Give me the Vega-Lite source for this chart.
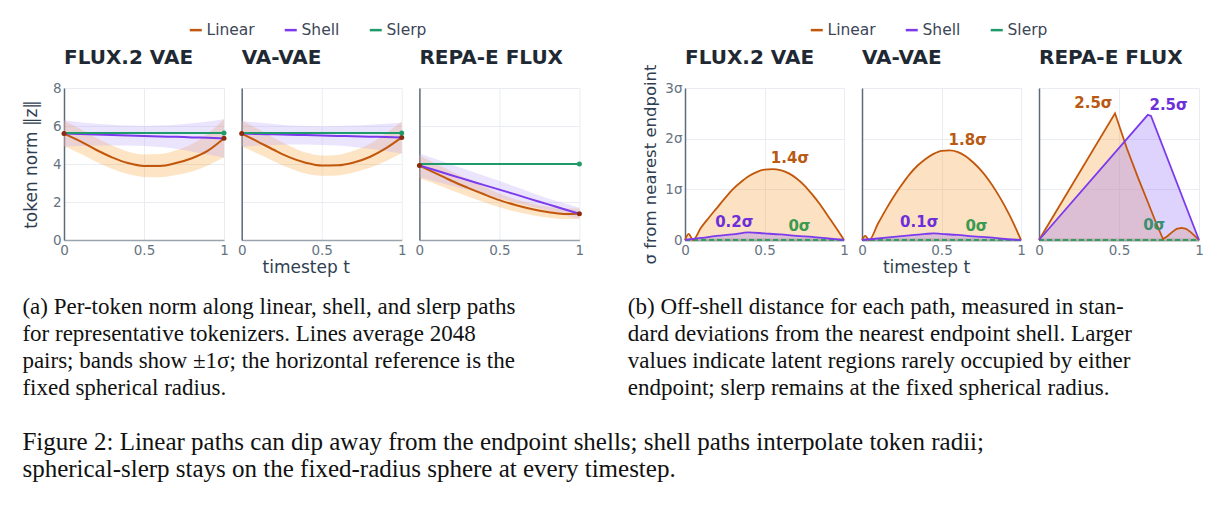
{
  "$schema": "https://vega.github.io/schema/vega-lite/v6.json",
  "background": "white",
  "padding": {"left": 22, "top": 22, "right": 10, "bottom": 10},
  "datasets": {
    "norm": [
      {"model": "FLUX.2 VAE", "series": "Linear", "t": 0, "mean": 5.6, "lo": 4.93, "hi": 6.27},
      {"model": "FLUX.2 VAE", "series": "Linear", "t": 0.1, "mean": 5.2, "lo": 4.55, "hi": 5.85},
      {"model": "FLUX.2 VAE", "series": "Linear", "t": 0.2, "mean": 4.75, "lo": 4.12, "hi": 5.38},
      {"model": "FLUX.2 VAE", "series": "Linear", "t": 0.3, "mean": 4.35, "lo": 3.75, "hi": 4.97},
      {"model": "FLUX.2 VAE", "series": "Linear", "t": 0.4, "mean": 4.05, "lo": 3.47, "hi": 4.65},
      {"model": "FLUX.2 VAE", "series": "Linear", "t": 0.5, "mean": 3.9, "lo": 3.32, "hi": 4.5},
      {"model": "FLUX.2 VAE", "series": "Linear", "t": 0.6, "mean": 3.9, "lo": 3.3, "hi": 4.52},
      {"model": "FLUX.2 VAE", "series": "Linear", "t": 0.7, "mean": 4.05, "lo": 3.42, "hi": 4.72},
      {"model": "FLUX.2 VAE", "series": "Linear", "t": 0.8, "mean": 4.3, "lo": 3.6, "hi": 5.05},
      {"model": "FLUX.2 VAE", "series": "Linear", "t": 0.9, "mean": 4.7, "lo": 3.92, "hi": 5.6},
      {"model": "FLUX.2 VAE", "series": "Linear", "t": 1, "mean": 5.35, "lo": 4.35, "hi": 6.35},
      {"model": "FLUX.2 VAE", "series": "Shell", "t": 0, "mean": 5.6, "lo": 4.92, "hi": 6.3},
      {"model": "FLUX.2 VAE", "series": "Shell", "t": 0.1, "mean": 5.58, "lo": 4.95, "hi": 6.2},
      {"model": "FLUX.2 VAE", "series": "Shell", "t": 0.2, "mean": 5.55, "lo": 4.97, "hi": 6.12},
      {"model": "FLUX.2 VAE", "series": "Shell", "t": 0.3, "mean": 5.53, "lo": 4.98, "hi": 6.06},
      {"model": "FLUX.2 VAE", "series": "Shell", "t": 0.4, "mean": 5.5, "lo": 4.98, "hi": 6.02},
      {"model": "FLUX.2 VAE", "series": "Shell", "t": 0.5, "mean": 5.48, "lo": 4.95, "hi": 6.0},
      {"model": "FLUX.2 VAE", "series": "Shell", "t": 0.6, "mean": 5.45, "lo": 4.9, "hi": 6.02},
      {"model": "FLUX.2 VAE", "series": "Shell", "t": 0.7, "mean": 5.43, "lo": 4.8, "hi": 6.07},
      {"model": "FLUX.2 VAE", "series": "Shell", "t": 0.8, "mean": 5.4, "lo": 4.66, "hi": 6.14},
      {"model": "FLUX.2 VAE", "series": "Shell", "t": 0.9, "mean": 5.38, "lo": 4.5, "hi": 6.24},
      {"model": "FLUX.2 VAE", "series": "Shell", "t": 1, "mean": 5.35, "lo": 4.33, "hi": 6.36},
      {"model": "FLUX.2 VAE", "series": "Slerp", "t": 0, "mean": 5.63, "lo": 5.63, "hi": 5.63},
      {"model": "FLUX.2 VAE", "series": "Slerp", "t": 1, "mean": 5.63, "lo": 5.63, "hi": 5.63},
      {"model": "VA-VAE", "series": "Linear", "t": 0, "mean": 5.6, "lo": 4.92, "hi": 6.28},
      {"model": "VA-VAE", "series": "Linear", "t": 0.1, "mean": 5.18, "lo": 4.55, "hi": 5.85},
      {"model": "VA-VAE", "series": "Linear", "t": 0.2, "mean": 4.75, "lo": 4.15, "hi": 5.38},
      {"model": "VA-VAE", "series": "Linear", "t": 0.3, "mean": 4.35, "lo": 3.78, "hi": 4.95},
      {"model": "VA-VAE", "series": "Linear", "t": 0.4, "mean": 4.07, "lo": 3.5, "hi": 4.6},
      {"model": "VA-VAE", "series": "Linear", "t": 0.5, "mean": 3.92, "lo": 3.38, "hi": 4.45},
      {"model": "VA-VAE", "series": "Linear", "t": 0.6, "mean": 3.93, "lo": 3.4, "hi": 4.48},
      {"model": "VA-VAE", "series": "Linear", "t": 0.7, "mean": 4.08, "lo": 3.55, "hi": 4.7},
      {"model": "VA-VAE", "series": "Linear", "t": 0.8, "mean": 4.37, "lo": 3.8, "hi": 5.05},
      {"model": "VA-VAE", "series": "Linear", "t": 0.9, "mean": 4.82, "lo": 4.15, "hi": 5.6},
      {"model": "VA-VAE", "series": "Linear", "t": 1, "mean": 5.4, "lo": 4.57, "hi": 6.24},
      {"model": "VA-VAE", "series": "Shell", "t": 0, "mean": 5.6, "lo": 4.92, "hi": 6.28},
      {"model": "VA-VAE", "series": "Shell", "t": 0.1, "mean": 5.58, "lo": 4.97, "hi": 6.18},
      {"model": "VA-VAE", "series": "Shell", "t": 0.2, "mean": 5.56, "lo": 5.0, "hi": 6.1},
      {"model": "VA-VAE", "series": "Shell", "t": 0.3, "mean": 5.54, "lo": 5.02, "hi": 6.03},
      {"model": "VA-VAE", "series": "Shell", "t": 0.4, "mean": 5.52, "lo": 5.02, "hi": 6.0},
      {"model": "VA-VAE", "series": "Shell", "t": 0.5, "mean": 5.5, "lo": 5.0, "hi": 5.98},
      {"model": "VA-VAE", "series": "Shell", "t": 0.6, "mean": 5.48, "lo": 4.97, "hi": 6.0},
      {"model": "VA-VAE", "series": "Shell", "t": 0.7, "mean": 5.46, "lo": 4.9, "hi": 6.03},
      {"model": "VA-VAE", "series": "Shell", "t": 0.8, "mean": 5.44, "lo": 4.8, "hi": 6.07},
      {"model": "VA-VAE", "series": "Shell", "t": 0.9, "mean": 5.42, "lo": 4.68, "hi": 6.12},
      {"model": "VA-VAE", "series": "Shell", "t": 1, "mean": 5.4, "lo": 4.55, "hi": 6.17},
      {"model": "VA-VAE", "series": "Slerp", "t": 0, "mean": 5.63, "lo": 5.63, "hi": 5.63},
      {"model": "VA-VAE", "series": "Slerp", "t": 1, "mean": 5.63, "lo": 5.63, "hi": 5.63},
      {"model": "REPA-E FLUX", "series": "Linear", "t": 0, "mean": 3.92, "lo": 3.25, "hi": 4.45},
      {"model": "REPA-E FLUX", "series": "Linear", "t": 0.1, "mean": 3.52, "lo": 2.95, "hi": 4.02},
      {"model": "REPA-E FLUX", "series": "Linear", "t": 0.2, "mean": 3.12, "lo": 2.62, "hi": 3.6},
      {"model": "REPA-E FLUX", "series": "Linear", "t": 0.3, "mean": 2.76, "lo": 2.3, "hi": 3.2},
      {"model": "REPA-E FLUX", "series": "Linear", "t": 0.4, "mean": 2.42, "lo": 2.0, "hi": 2.83},
      {"model": "REPA-E FLUX", "series": "Linear", "t": 0.5, "mean": 2.1, "lo": 1.72, "hi": 2.45},
      {"model": "REPA-E FLUX", "series": "Linear", "t": 0.6, "mean": 1.84, "lo": 1.5, "hi": 2.15},
      {"model": "REPA-E FLUX", "series": "Linear", "t": 0.7, "mean": 1.63, "lo": 1.32, "hi": 1.92},
      {"model": "REPA-E FLUX", "series": "Linear", "t": 0.8, "mean": 1.47, "lo": 1.18, "hi": 1.76},
      {"model": "REPA-E FLUX", "series": "Linear", "t": 0.9, "mean": 1.37, "lo": 1.1, "hi": 1.67},
      {"model": "REPA-E FLUX", "series": "Linear", "t": 1, "mean": 1.38, "lo": 1.1, "hi": 1.66},
      {"model": "REPA-E FLUX", "series": "Shell", "t": 0, "mean": 3.92, "lo": 3.3, "hi": 4.55},
      {"model": "REPA-E FLUX", "series": "Shell", "t": 0.1, "mean": 3.67, "lo": 3.08, "hi": 4.26},
      {"model": "REPA-E FLUX", "series": "Shell", "t": 0.2, "mean": 3.41, "lo": 2.86, "hi": 3.97},
      {"model": "REPA-E FLUX", "series": "Shell", "t": 0.3, "mean": 3.16, "lo": 2.64, "hi": 3.68},
      {"model": "REPA-E FLUX", "series": "Shell", "t": 0.4, "mean": 2.9, "lo": 2.42, "hi": 3.39},
      {"model": "REPA-E FLUX", "series": "Shell", "t": 0.5, "mean": 2.65, "lo": 2.2, "hi": 3.1},
      {"model": "REPA-E FLUX", "series": "Shell", "t": 0.6, "mean": 2.4, "lo": 1.98, "hi": 2.8},
      {"model": "REPA-E FLUX", "series": "Shell", "t": 0.7, "mean": 2.14, "lo": 1.76, "hi": 2.5},
      {"model": "REPA-E FLUX", "series": "Shell", "t": 0.8, "mean": 1.89, "lo": 1.54, "hi": 2.2},
      {"model": "REPA-E FLUX", "series": "Shell", "t": 0.9, "mean": 1.63, "lo": 1.32, "hi": 1.95},
      {"model": "REPA-E FLUX", "series": "Shell", "t": 1, "mean": 1.38, "lo": 1.1, "hi": 1.7},
      {"model": "REPA-E FLUX", "series": "Slerp", "t": 0, "mean": 4.0, "lo": 4.0, "hi": 4.0},
      {"model": "REPA-E FLUX", "series": "Slerp", "t": 1, "mean": 4.0, "lo": 4.0, "hi": 4.0}
    ],
    "dev": [
      {"model": "FLUX.2 VAE", "series": "Linear", "t": 0, "v": 0},
      {"model": "FLUX.2 VAE", "series": "Linear", "t": 0.023, "v": 0.12},
      {"model": "FLUX.2 VAE", "series": "Linear", "t": 0.05, "v": 0},
      {"model": "FLUX.2 VAE", "series": "Linear", "t": 0.1, "v": 0.24},
      {"model": "FLUX.2 VAE", "series": "Linear", "t": 0.15, "v": 0.44},
      {"model": "FLUX.2 VAE", "series": "Linear", "t": 0.2, "v": 0.63},
      {"model": "FLUX.2 VAE", "series": "Linear", "t": 0.25, "v": 0.82},
      {"model": "FLUX.2 VAE", "series": "Linear", "t": 0.3, "v": 1.0},
      {"model": "FLUX.2 VAE", "series": "Linear", "t": 0.35, "v": 1.14},
      {"model": "FLUX.2 VAE", "series": "Linear", "t": 0.4, "v": 1.26},
      {"model": "FLUX.2 VAE", "series": "Linear", "t": 0.45, "v": 1.34},
      {"model": "FLUX.2 VAE", "series": "Linear", "t": 0.5, "v": 1.39},
      {"model": "FLUX.2 VAE", "series": "Linear", "t": 0.55, "v": 1.4},
      {"model": "FLUX.2 VAE", "series": "Linear", "t": 0.6, "v": 1.38},
      {"model": "FLUX.2 VAE", "series": "Linear", "t": 0.65, "v": 1.32},
      {"model": "FLUX.2 VAE", "series": "Linear", "t": 0.7, "v": 1.22},
      {"model": "FLUX.2 VAE", "series": "Linear", "t": 0.75, "v": 1.08},
      {"model": "FLUX.2 VAE", "series": "Linear", "t": 0.8, "v": 0.9},
      {"model": "FLUX.2 VAE", "series": "Linear", "t": 0.85, "v": 0.7},
      {"model": "FLUX.2 VAE", "series": "Linear", "t": 0.9, "v": 0.47},
      {"model": "FLUX.2 VAE", "series": "Linear", "t": 0.95, "v": 0.24},
      {"model": "FLUX.2 VAE", "series": "Linear", "t": 1, "v": 0},
      {"model": "FLUX.2 VAE", "series": "Shell", "t": 0, "v": 0},
      {"model": "FLUX.2 VAE", "series": "Shell", "t": 0.1, "v": 0.04},
      {"model": "FLUX.2 VAE", "series": "Shell", "t": 0.2, "v": 0.08},
      {"model": "FLUX.2 VAE", "series": "Shell", "t": 0.3, "v": 0.11},
      {"model": "FLUX.2 VAE", "series": "Shell", "t": 0.4, "v": 0.15},
      {"model": "FLUX.2 VAE", "series": "Shell", "t": 0.5, "v": 0.13},
      {"model": "FLUX.2 VAE", "series": "Shell", "t": 0.6, "v": 0.11},
      {"model": "FLUX.2 VAE", "series": "Shell", "t": 0.7, "v": 0.08},
      {"model": "FLUX.2 VAE", "series": "Shell", "t": 0.8, "v": 0.06},
      {"model": "FLUX.2 VAE", "series": "Shell", "t": 0.9, "v": 0.03},
      {"model": "FLUX.2 VAE", "series": "Shell", "t": 1, "v": 0},
      {"model": "FLUX.2 VAE", "series": "Slerp", "t": 0, "v": 0},
      {"model": "FLUX.2 VAE", "series": "Slerp", "t": 1, "v": 0},
      {"model": "VA-VAE", "series": "Linear", "t": 0, "v": 0},
      {"model": "VA-VAE", "series": "Linear", "t": 0.02, "v": 0.08},
      {"model": "VA-VAE", "series": "Linear", "t": 0.045, "v": 0},
      {"model": "VA-VAE", "series": "Linear", "t": 0.1, "v": 0.32},
      {"model": "VA-VAE", "series": "Linear", "t": 0.15, "v": 0.6},
      {"model": "VA-VAE", "series": "Linear", "t": 0.2, "v": 0.86},
      {"model": "VA-VAE", "series": "Linear", "t": 0.25, "v": 1.09},
      {"model": "VA-VAE", "series": "Linear", "t": 0.3, "v": 1.3},
      {"model": "VA-VAE", "series": "Linear", "t": 0.35, "v": 1.47},
      {"model": "VA-VAE", "series": "Linear", "t": 0.4, "v": 1.6},
      {"model": "VA-VAE", "series": "Linear", "t": 0.45, "v": 1.7},
      {"model": "VA-VAE", "series": "Linear", "t": 0.5, "v": 1.76},
      {"model": "VA-VAE", "series": "Linear", "t": 0.55, "v": 1.77},
      {"model": "VA-VAE", "series": "Linear", "t": 0.6, "v": 1.74},
      {"model": "VA-VAE", "series": "Linear", "t": 0.65, "v": 1.66},
      {"model": "VA-VAE", "series": "Linear", "t": 0.7, "v": 1.53},
      {"model": "VA-VAE", "series": "Linear", "t": 0.75, "v": 1.37},
      {"model": "VA-VAE", "series": "Linear", "t": 0.8, "v": 1.17},
      {"model": "VA-VAE", "series": "Linear", "t": 0.85, "v": 0.93},
      {"model": "VA-VAE", "series": "Linear", "t": 0.9, "v": 0.66},
      {"model": "VA-VAE", "series": "Linear", "t": 0.95, "v": 0.35},
      {"model": "VA-VAE", "series": "Linear", "t": 1, "v": 0},
      {"model": "VA-VAE", "series": "Shell", "t": 0, "v": 0},
      {"model": "VA-VAE", "series": "Shell", "t": 0.1, "v": 0.03},
      {"model": "VA-VAE", "series": "Shell", "t": 0.2, "v": 0.06},
      {"model": "VA-VAE", "series": "Shell", "t": 0.3, "v": 0.09},
      {"model": "VA-VAE", "series": "Shell", "t": 0.4, "v": 0.12},
      {"model": "VA-VAE", "series": "Shell", "t": 0.45, "v": 0.13},
      {"model": "VA-VAE", "series": "Shell", "t": 0.5, "v": 0.12},
      {"model": "VA-VAE", "series": "Shell", "t": 0.6, "v": 0.1},
      {"model": "VA-VAE", "series": "Shell", "t": 0.7, "v": 0.07},
      {"model": "VA-VAE", "series": "Shell", "t": 0.8, "v": 0.05},
      {"model": "VA-VAE", "series": "Shell", "t": 0.9, "v": 0.02},
      {"model": "VA-VAE", "series": "Shell", "t": 1, "v": 0},
      {"model": "VA-VAE", "series": "Slerp", "t": 0, "v": 0},
      {"model": "VA-VAE", "series": "Slerp", "t": 1, "v": 0},
      {"model": "REPA-E FLUX", "series": "Linear", "t": 0, "v": 0},
      {"model": "REPA-E FLUX", "series": "Linear", "t": 0.475, "v": 2.5},
      {"model": "REPA-E FLUX", "series": "Linear", "t": 0.55, "v": 1.8},
      {"model": "REPA-E FLUX", "series": "Linear", "t": 0.62, "v": 1.22},
      {"model": "REPA-E FLUX", "series": "Linear", "t": 0.68, "v": 0.75},
      {"model": "REPA-E FLUX", "series": "Linear", "t": 0.73, "v": 0.35},
      {"model": "REPA-E FLUX", "series": "Linear", "t": 0.775, "v": 0.02},
      {"model": "REPA-E FLUX", "series": "Linear", "t": 0.8, "v": 0.07},
      {"model": "REPA-E FLUX", "series": "Linear", "t": 0.83, "v": 0.15},
      {"model": "REPA-E FLUX", "series": "Linear", "t": 0.86, "v": 0.22},
      {"model": "REPA-E FLUX", "series": "Linear", "t": 0.89, "v": 0.24},
      {"model": "REPA-E FLUX", "series": "Linear", "t": 0.92, "v": 0.22},
      {"model": "REPA-E FLUX", "series": "Linear", "t": 0.95, "v": 0.15},
      {"model": "REPA-E FLUX", "series": "Linear", "t": 0.98, "v": 0.06},
      {"model": "REPA-E FLUX", "series": "Linear", "t": 1, "v": 0},
      {"model": "REPA-E FLUX", "series": "Shell", "t": 0, "v": 0},
      {"model": "REPA-E FLUX", "series": "Shell", "t": 0.68, "v": 2.47},
      {"model": "REPA-E FLUX", "series": "Shell", "t": 0.7, "v": 2.45},
      {"model": "REPA-E FLUX", "series": "Shell", "t": 1, "v": 0},
      {"model": "REPA-E FLUX", "series": "Slerp", "t": 0, "v": 0},
      {"model": "REPA-E FLUX", "series": "Slerp", "t": 1, "v": 0}
    ],
    "labels": [
      {"model": "FLUX.2 VAE", "series": "Linear", "t": 0.66, "v": 1.62, "label": "1.4σ"},
      {"model": "FLUX.2 VAE", "series": "Shell", "t": 0.31, "v": 0.35, "label": "0.2σ"},
      {"model": "FLUX.2 VAE", "series": "Slerp", "t": 0.72, "v": 0.27, "label": "0σ"},
      {"model": "VA-VAE", "series": "Linear", "t": 0.665, "v": 1.97, "label": "1.8σ"},
      {"model": "VA-VAE", "series": "Shell", "t": 0.36, "v": 0.35, "label": "0.1σ"},
      {"model": "VA-VAE", "series": "Slerp", "t": 0.72, "v": 0.27, "label": "0σ"},
      {"model": "REPA-E FLUX", "series": "Linear", "t": 0.34, "v": 2.7, "label": "2.5σ"},
      {"model": "REPA-E FLUX", "series": "Shell", "t": 0.81, "v": 2.66, "label": "2.5σ"},
      {"model": "REPA-E FLUX", "series": "Slerp", "t": 0.72, "v": 0.29, "label": "0σ"}
    ]
  },
  "title": {
    "text": ["Figure 2: Linear paths can dip away from the endpoint shells; shell paths interpolate token radii;", "spherical-slerp stays on the fixed-radius sphere at every timestep."],
    "orient": "bottom", "anchor": "start", "frame": "bounds",
    "font": "Liberation Serif", "fontSize": 25, "fontWeight": "normal", "color": "#111111", "lineHeight": 27, "offset": 30
  },
  "spacing": 43,
  "resolve": {"scale": {"color": "independent", "fill": "independent"}, "legend": {"color": "independent"}},
  "hconcat": [
    {
      "title": {
        "text": ["(a) Per-token norm along linear, shell, and slerp paths", "for representative tokenizers.  Lines average 2048", "pairs; bands show ±1σ; the horizontal reference is the", "fixed spherical radius."],
        "orient": "bottom", "anchor": "start", "frame": "bounds",
        "font": "Liberation Serif", "fontSize": 23, "fontWeight": "normal", "color": "#111111", "lineHeight": 27, "offset": 20
      },
      "bounds": "flush",
      "spacing": 17.7,
      "resolve": {"legend": {"color": "shared"}},
      "hconcat": [
        {
          "width": 160, "height": 152,
          "title": {"text": "FLUX.2 VAE", "offset": 13},
          "data": {"name": "norm"},
          "transform": [{"filter": "datum.model == 'FLUX.2 VAE'"}],
          "layer": [
            {"transform": [{"filter": "datum.series != 'Slerp'"}],
             "mark": {"type": "area", "interpolate": "monotone", "opacity": 0.3},
             "encoding": {
               "x": {"field": "t", "type": "quantitative", "scale": {"domain": [0, 1], "nice": false}, "axis": {"values": [0, 0.5, 1], "labelExpr": "datum.value", "title": null}},
               "y": {"field": "lo", "type": "quantitative", "stack": null, "scale": {"domain": [0, 8], "nice": false}, "axis": {"values": [0, 2, 4, 6, 8], "title": "token norm ‖z‖", "titleFontSize": 17, "titlePadding": 12}},
               "y2": {"field": "hi"},
               "fill": {"field": "series", "type": "nominal", "scale": {"domain": ["Linear", "Shell"], "range": ["#f8a53a", "#bca5f8"]}, "legend": null}}},
            {"mark": {"type": "line", "interpolate": "monotone", "strokeWidth": 2},
             "encoding": {
               "x": {"field": "t", "type": "quantitative", "axis": {"values": [0, 0.5, 1], "labelExpr": "datum.value", "title": null}},
               "y": {"field": "mean", "type": "quantitative", "axis": {"values": [0, 2, 4, 6, 8], "title": "token norm ‖z‖", "titleFontSize": 17, "titlePadding": 12}},
               "color": {"field": "series", "type": "nominal", "scale": {"domain": ["Linear", "Shell", "Slerp"], "range": ["#c2570c", "#7c3aed", "#1f9a6a"]}, "legend": {"title": null, "orient": "none", "direction": "horizontal", "legendX": 124, "legendY": -66}}}},
            {"transform": [{"filter": "datum.series == 'Linear' && (datum.t == 0 || datum.t == 1)"}],
             "mark": {"type": "circle", "size": 25, "color": "#8b2b0e", "opacity": 1},
             "encoding": {"x": {"field": "t", "type": "quantitative"}, "y": {"field": "mean", "type": "quantitative", "axis": {"values": [0, 2, 4, 6, 8], "title": "token norm ‖z‖", "titleFontSize": 17, "titlePadding": 12}}}},
            {"transform": [{"filter": "datum.series == 'Slerp' && datum.t == 1"}],
             "mark": {"type": "circle", "size": 25, "color": "#1f9a6a", "opacity": 1},
             "encoding": {"x": {"field": "t", "type": "quantitative"}, "y": {"field": "mean", "type": "quantitative", "axis": {"values": [0, 2, 4, 6, 8], "title": "token norm ‖z‖", "titleFontSize": 17, "titlePadding": 12}}}}
          ]
        },
        {
          "width": 160, "height": 152,
          "title": {"text": "VA-VAE", "offset": 20},
          "data": {"name": "norm"},
          "transform": [{"filter": "datum.model == 'VA-VAE'"}],
          "layer": [
            {"transform": [{"filter": "datum.series != 'Slerp'"}],
             "mark": {"type": "area", "interpolate": "monotone", "opacity": 0.3},
             "encoding": {
               "x": {"field": "t", "type": "quantitative", "scale": {"domain": [0, 1], "nice": false}, "axis": {"values": [0, 0.5, 1], "labelExpr": "datum.value", "title": "timestep t", "titleFontSize": 17, "titlePadding": 3, "titleX": 64}},
               "y": {"field": "lo", "type": "quantitative", "stack": null, "scale": {"domain": [0, 8], "nice": false}, "axis": {"values": [0, 2, 4, 6, 8], "title": null, "labels": false}},
               "y2": {"field": "hi"},
               "fill": {"field": "series", "type": "nominal", "scale": {"domain": ["Linear", "Shell"], "range": ["#f8a53a", "#bca5f8"]}, "legend": null}}},
            {"mark": {"type": "line", "interpolate": "monotone", "strokeWidth": 2},
             "encoding": {
               "x": {"field": "t", "type": "quantitative", "axis": {"values": [0, 0.5, 1], "labelExpr": "datum.value", "title": "timestep t", "titleFontSize": 17, "titlePadding": 3, "titleX": 64}},
               "y": {"field": "mean", "type": "quantitative", "axis": {"values": [0, 2, 4, 6, 8], "title": null, "labels": false}},
               "color": {"field": "series", "type": "nominal", "scale": {"domain": ["Linear", "Shell", "Slerp"], "range": ["#c2570c", "#7c3aed", "#1f9a6a"]}, "legend": {"title": null, "orient": "none", "direction": "horizontal", "legendX": 124, "legendY": -66}}}},
            {"transform": [{"filter": "datum.series == 'Linear' && (datum.t == 0 || datum.t == 1)"}],
             "mark": {"type": "circle", "size": 25, "color": "#8b2b0e", "opacity": 1},
             "encoding": {"x": {"field": "t", "type": "quantitative"}, "y": {"field": "mean", "type": "quantitative", "axis": {"values": [0, 2, 4, 6, 8], "title": null, "labels": false}}}},
            {"transform": [{"filter": "datum.series == 'Slerp' && datum.t == 1"}],
             "mark": {"type": "circle", "size": 25, "color": "#1f9a6a", "opacity": 1},
             "encoding": {"x": {"field": "t", "type": "quantitative"}, "y": {"field": "mean", "type": "quantitative", "axis": {"values": [0, 2, 4, 6, 8], "title": null, "labels": false}}}}
          ]
        },
        {
          "width": 160, "height": 152,
          "title": {"text": "REPA-E FLUX", "offset": 20},
          "data": {"name": "norm"},
          "transform": [{"filter": "datum.model == 'REPA-E FLUX'"}],
          "layer": [
            {"transform": [{"filter": "datum.series != 'Slerp'"}],
             "mark": {"type": "area", "interpolate": "monotone", "opacity": 0.3},
             "encoding": {
               "x": {"field": "t", "type": "quantitative", "scale": {"domain": [0, 1], "nice": false}, "axis": {"values": [0, 0.5, 1], "labelExpr": "datum.value", "title": null}},
               "y": {"field": "lo", "type": "quantitative", "stack": null, "scale": {"domain": [0, 8], "nice": false}, "axis": {"values": [0, 2, 4, 6, 8], "title": null, "labels": false}},
               "y2": {"field": "hi"},
               "fill": {"field": "series", "type": "nominal", "scale": {"domain": ["Linear", "Shell"], "range": ["#f8a53a", "#bca5f8"]}, "legend": null}}},
            {"mark": {"type": "line", "interpolate": "monotone", "strokeWidth": 2},
             "encoding": {
               "x": {"field": "t", "type": "quantitative", "axis": {"values": [0, 0.5, 1], "labelExpr": "datum.value", "title": null}},
               "y": {"field": "mean", "type": "quantitative", "axis": {"values": [0, 2, 4, 6, 8], "title": null, "labels": false}},
               "color": {"field": "series", "type": "nominal", "scale": {"domain": ["Linear", "Shell", "Slerp"], "range": ["#c2570c", "#7c3aed", "#1f9a6a"]}, "legend": {"title": null, "orient": "none", "direction": "horizontal", "legendX": 124, "legendY": -66}}}},
            {"transform": [{"filter": "datum.series == 'Linear' && (datum.t == 0 || datum.t == 1)"}],
             "mark": {"type": "circle", "size": 25, "color": "#8b2b0e", "opacity": 1},
             "encoding": {"x": {"field": "t", "type": "quantitative"}, "y": {"field": "mean", "type": "quantitative", "axis": {"values": [0, 2, 4, 6, 8], "title": null, "labels": false}}}},
            {"transform": [{"filter": "datum.series == 'Slerp' && datum.t == 1"}],
             "mark": {"type": "circle", "size": 25, "color": "#1f9a6a", "opacity": 1},
             "encoding": {"x": {"field": "t", "type": "quantitative"}, "y": {"field": "mean", "type": "quantitative", "axis": {"values": [0, 2, 4, 6, 8], "title": null, "labels": false}}}}
          ]
        }
      ]
    },
    {
      "title": {
        "text": ["(b) Off-shell distance for each path, measured in stan-", "dard deviations from the nearest endpoint shell. Larger", "values indicate latent regions rarely occupied by either", "endpoint; slerp remains at the fixed spherical radius."],
        "orient": "bottom", "anchor": "start", "frame": "bounds", "dx": -15,
        "font": "Liberation Serif", "fontSize": 23, "fontWeight": "normal", "color": "#111111", "lineHeight": 27, "offset": 20
      },
      "bounds": "flush",
      "spacing": 18,
      "resolve": {"legend": {"color": "shared"}},
      "hconcat": [
        {
          "width": 159, "height": 152,
          "title": {"text": "FLUX.2 VAE", "offset": -4},
          "data": {"name": "dev"},
          "transform": [{"filter": "datum.model == 'FLUX.2 VAE'"}],
          "encoding": {
            "x": {"field": "t", "type": "quantitative", "scale": {"domain": [0, 1], "nice": false}, "axis": {"values": [0, 0.5, 1], "labelExpr": "datum.value", "title": null}},
            "y": {"field": "v", "type": "quantitative", "stack": null, "scale": {"domain": [0, 3], "nice": false}, "axis": {"values": [0, 1, 2, 3], "labelExpr": "datum.value == 0 ? '0' : datum.value + 'σ'", "title": "σ from nearest endpoint", "titleFontSize": 16.5, "titlePadding": 6}}
          },
          "layer": [
            {"transform": [{"filter": "datum.series != 'Slerp'"}],
             "mark": {"type": "area", "interpolate": "monotone", "opacity": 0.35},
             "encoding": {"fill": {"field": "series", "type": "nominal", "scale": {"domain": ["Linear", "Shell"], "range": ["#f6aa50", "#a082f5"]}, "legend": null}}},
            {"transform": [{"filter": "datum.series == 'Slerp'"}],
             "mark": {"type": "line", "color": "#9aa3a0", "strokeWidth": 3.5, "opacity": 0.45}},
            {"transform": [{"filter": "datum.series == 'Slerp'"}],
             "mark": {"type": "line", "color": "#3a9a5b", "strokeWidth": 2, "strokeDash": [5, 3]}},
            {"transform": [{"filter": "datum.series != 'Slerp'"}],
             "mark": {"type": "line", "interpolate": "monotone", "strokeWidth": 1.8},
             "encoding": {"color": {"field": "series", "type": "nominal", "scale": {"domain": ["Linear", "Shell", "Slerp"], "range": ["#c2570c", "#7c3aed", "#1f9a6a"]}, "legend": {"title": null, "orient": "none", "direction": "horizontal", "legendX": 124, "legendY": -66}}}},
            {"data": {"name": "labels"}, "transform": [{"filter": "datum.model == 'FLUX.2 VAE' && datum.series == 'Linear'"}],
             "mark": {"type": "text", "fontSize": 15, "fontWeight": "bold", "color": "#b85a14"},
             "encoding": {"text": {"field": "label"}}},
            {"data": {"name": "labels"}, "transform": [{"filter": "datum.model == 'FLUX.2 VAE' && datum.series == 'Shell'"}],
             "mark": {"type": "text", "fontSize": 15, "fontWeight": "bold", "color": "#6d2fd9"},
             "encoding": {"text": {"field": "label"}}},
            {"data": {"name": "labels"}, "transform": [{"filter": "datum.model == 'FLUX.2 VAE' && datum.series == 'Slerp'"}],
             "mark": {"type": "text", "fontSize": 15, "fontWeight": "bold", "color": "#3a9a4f"},
             "encoding": {"text": {"field": "label"}}}
          ]
        },
        {
          "width": 159, "height": 152,
          "title": {"text": "VA-VAE", "offset": 20},
          "data": {"name": "dev"},
          "transform": [{"filter": "datum.model == 'VA-VAE'"}],
          "encoding": {
            "x": {"field": "t", "type": "quantitative", "scale": {"domain": [0, 1], "nice": false}, "axis": {"values": [0, 0.5, 1], "labelExpr": "datum.value", "title": "timestep t", "titleFontSize": 17, "titlePadding": 3, "titleX": 64}},
            "y": {"field": "v", "type": "quantitative", "stack": null, "scale": {"domain": [0, 3], "nice": false}, "axis": {"values": [0, 1, 2, 3], "title": null, "labels": false}}
          },
          "layer": [
            {"transform": [{"filter": "datum.series != 'Slerp'"}],
             "mark": {"type": "area", "interpolate": "monotone", "opacity": 0.35},
             "encoding": {"fill": {"field": "series", "type": "nominal", "scale": {"domain": ["Linear", "Shell"], "range": ["#f6aa50", "#a082f5"]}, "legend": null}}},
            {"transform": [{"filter": "datum.series == 'Slerp'"}],
             "mark": {"type": "line", "color": "#9aa3a0", "strokeWidth": 3.5, "opacity": 0.45}},
            {"transform": [{"filter": "datum.series == 'Slerp'"}],
             "mark": {"type": "line", "color": "#3a9a5b", "strokeWidth": 2, "strokeDash": [5, 3]}},
            {"transform": [{"filter": "datum.series != 'Slerp'"}],
             "mark": {"type": "line", "interpolate": "monotone", "strokeWidth": 1.8},
             "encoding": {"color": {"field": "series", "type": "nominal", "scale": {"domain": ["Linear", "Shell", "Slerp"], "range": ["#c2570c", "#7c3aed", "#1f9a6a"]}, "legend": {"title": null, "orient": "none", "direction": "horizontal", "legendX": 124, "legendY": -66}}}},
            {"data": {"name": "labels"}, "transform": [{"filter": "datum.model == 'VA-VAE' && datum.series == 'Linear'"}],
             "mark": {"type": "text", "fontSize": 15, "fontWeight": "bold", "color": "#b85a14"},
             "encoding": {"text": {"field": "label"}}},
            {"data": {"name": "labels"}, "transform": [{"filter": "datum.model == 'VA-VAE' && datum.series == 'Shell'"}],
             "mark": {"type": "text", "fontSize": 15, "fontWeight": "bold", "color": "#6d2fd9"},
             "encoding": {"text": {"field": "label"}}},
            {"data": {"name": "labels"}, "transform": [{"filter": "datum.model == 'VA-VAE' && datum.series == 'Slerp'"}],
             "mark": {"type": "text", "fontSize": 15, "fontWeight": "bold", "color": "#3a9a4f"},
             "encoding": {"text": {"field": "label"}}}
          ]
        },
        {
          "width": 160, "height": 152,
          "title": {"text": "REPA-E FLUX", "offset": 20},
          "data": {"name": "dev"},
          "transform": [{"filter": "datum.model == 'REPA-E FLUX'"}],
          "encoding": {
            "x": {"field": "t", "type": "quantitative", "scale": {"domain": [0, 1], "nice": false}, "axis": {"values": [0, 0.5, 1], "labelExpr": "datum.value", "title": null}},
            "y": {"field": "v", "type": "quantitative", "stack": null, "scale": {"domain": [0, 3], "nice": false}, "axis": {"values": [0, 1, 2, 3], "title": null, "labels": false}}
          },
          "layer": [
            {"transform": [{"filter": "datum.series != 'Slerp'"}],
             "mark": {"type": "area", "interpolate": "linear", "opacity": 0.35},
             "encoding": {"fill": {"field": "series", "type": "nominal", "scale": {"domain": ["Linear", "Shell"], "range": ["#f6aa50", "#a082f5"]}, "legend": null}}},
            {"transform": [{"filter": "datum.series == 'Slerp'"}],
             "mark": {"type": "line", "color": "#9aa3a0", "strokeWidth": 3.5, "opacity": 0.45}},
            {"transform": [{"filter": "datum.series == 'Slerp'"}],
             "mark": {"type": "line", "color": "#3a9a5b", "strokeWidth": 2, "strokeDash": [5, 3]}},
            {"transform": [{"filter": "datum.series != 'Slerp'"}],
             "mark": {"type": "line", "interpolate": "linear", "strokeWidth": 1.8},
             "encoding": {"color": {"field": "series", "type": "nominal", "scale": {"domain": ["Linear", "Shell", "Slerp"], "range": ["#c2570c", "#7c3aed", "#1f9a6a"]}, "legend": {"title": null, "orient": "none", "direction": "horizontal", "legendX": 124, "legendY": -66}}}},
            {"data": {"name": "labels"}, "transform": [{"filter": "datum.model == 'REPA-E FLUX' && datum.series == 'Linear'"}],
             "mark": {"type": "text", "fontSize": 15, "fontWeight": "bold", "color": "#b85a14"},
             "encoding": {"text": {"field": "label"}}},
            {"data": {"name": "labels"}, "transform": [{"filter": "datum.model == 'REPA-E FLUX' && datum.series == 'Shell'"}],
             "mark": {"type": "text", "fontSize": 15, "fontWeight": "bold", "color": "#6d2fd9"},
             "encoding": {"text": {"field": "label"}}},
            {"data": {"name": "labels"}, "transform": [{"filter": "datum.model == 'REPA-E FLUX' && datum.series == 'Slerp'"}],
             "mark": {"type": "text", "fontSize": 15, "fontWeight": "bold", "color": "#3a8f70"},
             "encoding": {"text": {"field": "label"}}}
          ]
        }
      ]
    }
  ],
  "config": {
    "font": "DejaVu Sans",
    "view": {"stroke": null},
    "text": {"font": "DejaVu Sans"},
    "axis": {
      "labelFont": "DejaVu Sans", "labelFontSize": 13.5, "labelColor": "#66737f", "labelPadding": 3, "labelFlush": false,
      "titleFont": "DejaVu Sans", "titleFontWeight": "normal", "titleColor": "#2f3e50",
      "gridColor": "#e9edf2", "gridWidth": 1, "ticks": false,
      "domainColor": "#5c6b7a", "domainWidth": 1.5
    },
    "axisX": {"domainColor": "#9aa4ae", "domainWidth": 1.3},
    "title": {"font": "DejaVu Sans", "fontSize": 20, "fontWeight": "bold", "color": "#1f2933", "anchor": "start", "frame": "group"},
    "legend": {
      "symbolType": "stroke", "symbolSize": 144, "symbolStrokeWidth": 2.5,
      "labelFont": "DejaVu Sans", "labelFontSize": 15.5, "labelColor": "#3c4656", "columnPadding": 24, "labelOffset": 3
    }
  }
}
